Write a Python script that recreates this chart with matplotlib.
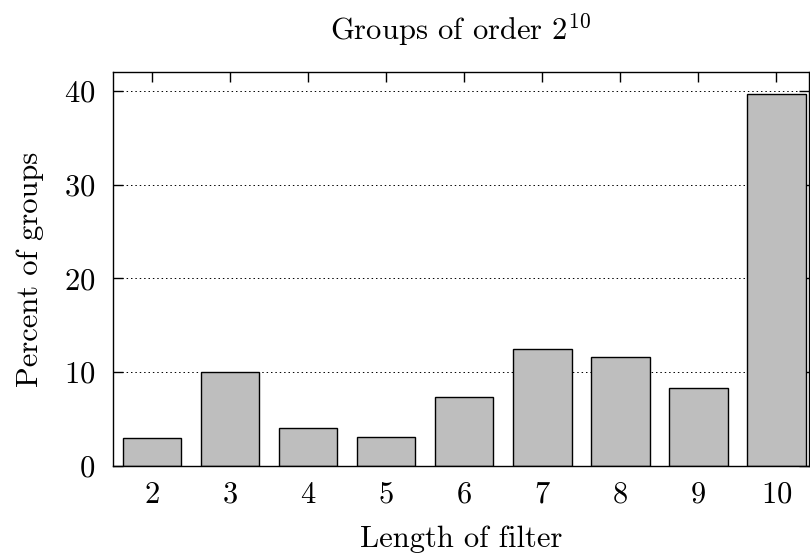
import matplotlib
matplotlib.use("Agg")
import matplotlib.pyplot as plt

lengths = [2, 3, 4, 5, 6, 7, 8, 9, 10]
percents = [3.0, 10.0, 4.1, 3.1, 7.4, 12.5, 11.65, 8.3, 39.7]
yticks = [0, 10, 20, 30, 40]

plt.rcParams['font.family'] = ['cmr10', 'DejaVu Serif']
plt.rcParams['mathtext.fontset'] = 'cm'
plt.rcParams['axes.formatter.use_mathtext'] = True

fig = plt.figure(figsize=(8.1, 5.55), dpi=100)
ax = fig.add_axes([113/810, 1 - 466/555, (810 - 113)/810 - 0.001, (466 - 72)/555])

ax.bar(lengths, percents, width=0.75, color='#bebebe', edgecolor='black', linewidth=1.0, zorder=3)
ax.set_xlim(1.5, 10.42)
ax.set_ylim(0, 42)
ax.set_xticks(lengths)
ax.set_yticks(yticks)
ax.yaxis.grid(True, linestyle=(0, (1.5, 3)), color='black', linewidth=0.7, zorder=0)
ax.tick_params(axis='both', direction='in', top=True, right=True, length=7, width=1.0, labelsize=22)
ax.tick_params(axis='y', pad=13)
ax.tick_params(axis='x', pad=11)
for s in ax.spines.values():
    s.set_linewidth(1.0)
    s.set_zorder(4)

ax.set_title('Groups of order $2^{10}$', fontsize=22, pad=23)
ax.set_xlabel('Length of filter', fontsize=22, labelpad=12)
ax.set_ylabel('Percent of groups', fontsize=22, labelpad=14)

fig.savefig('out.png', dpi=100)
